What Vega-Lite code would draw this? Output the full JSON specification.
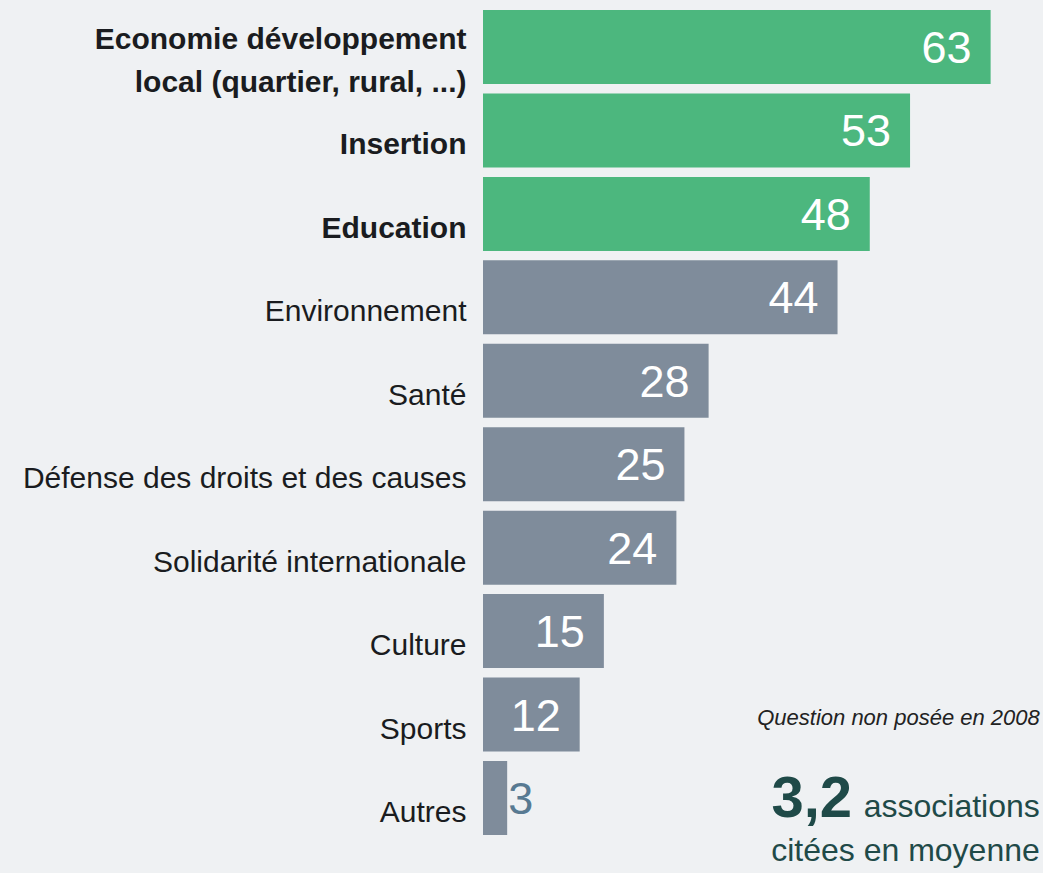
{
  "$schema": "https://vega.github.io/schema/vega-lite/v6.json",
  "autosize": "none",
  "width": 560,
  "height": 845,
  "padding": {"left": 483, "right": 0, "top": 0, "bottom": 28},
  "background": "#eff1f3",
  "config": {"view": {"stroke": null}, "font": "Liberation Sans"},
  "datasets": {
    "main": [
      {"cat": "Economie développement|local (quartier, rural, ...)", "value": 63, "group": "top"},
      {"cat": "Insertion", "value": 53, "group": "top"},
      {"cat": "Education", "value": 48, "group": "top"},
      {"cat": "Environnement", "value": 44, "group": "other"},
      {"cat": "Santé", "value": 28, "group": "other"},
      {"cat": "Défense des droits et des causes", "value": 25, "group": "other"},
      {"cat": "Solidarité internationale", "value": 24, "group": "other"},
      {"cat": "Culture", "value": 15, "group": "other"},
      {"cat": "Sports", "value": 12, "group": "other"},
      {"cat": "Autres", "value": 3, "group": "other"}
    ],
    "notes": [
      {"text": "Question non posée en 2008", "pos": 69.1, "cat": "Sports", "kind": "note"},
      {"text": "3,2", "pos": 45.8, "cat": "Autres", "kind": "big"},
      {"text": "associations", "pos": 69.1, "cat": "Autres", "kind": "line1"},
      {"text": "citées en moyenne", "pos": 69.1, "cat": "Autres", "kind": "line2"}
    ]
  },
  "encoding": {
    "y": {
      "field": "cat",
      "type": "nominal",
      "scale": {
        "domain": ["Economie développement|local (quartier, rural, ...)", "Insertion", "Education", "Environnement", "Santé", "Défense des droits et des causes", "Solidarité internationale", "Culture", "Sports", "Autres"],
        "paddingInner": 0.113,
        "paddingOuter": 0.12
      },
      "axis": {
        "title": null,
        "domain": false,
        "ticks": false,
        "grid": false,
        "labelPadding": 17,
        "labelLimit": 600,
        "labelFont": "Liberation Sans",
        "labelFontSize": 30,
        "labelColor": "#1a1c20",
        "labelLineHeight": 43,
        "labelExpr": "split(datum.value, '|')",
        "labelFontWeight": {"condition": {"test": "indexof(['Insertion','Education'], datum.value) >= 0 || indexof(datum.value, '|') >= 0", "value": "bold"}, "value": "normal"},
        "labelOffset": {"condition": {"test": "indexof(datum.value, '|') >= 0", "value": -7}, "value": 15}
      }
    }
  },
  "layer": [
    {
      "data": {"name": "main"},
      "mark": {"type": "bar"},
      "encoding": {
        "x": {"field": "value", "type": "quantitative", "scale": {"domain": [0, 69.5], "nice": false}, "axis": null},
        "color": {"field": "group", "type": "nominal", "scale": {"domain": ["top", "other"], "range": ["#4cb77e", "#7f8c9b"]}, "legend": null}
      }
    },
    {
      "data": {"name": "main"},
      "transform": [{"filter": "datum.value >= 5"}],
      "mark": {"type": "text", "align": "right", "baseline": "middle", "dx": -19, "dy": 2, "fontSize": 45, "color": "#ffffff"},
      "encoding": {
        "x": {"field": "value", "type": "quantitative"},
        "text": {"field": "value", "type": "quantitative"}
      }
    },
    {
      "data": {"name": "main"},
      "transform": [{"filter": "datum.value < 5"}],
      "mark": {"type": "text", "align": "left", "baseline": "middle", "dx": 1, "dy": 2, "fontSize": 45, "color": "#587a92"},
      "encoding": {
        "x": {"field": "value", "type": "quantitative"},
        "text": {"field": "value", "type": "quantitative"}
      }
    },
    {
      "data": {"name": "notes"},
      "transform": [{"filter": "datum.kind == 'note'"}],
      "mark": {"type": "text", "align": "right", "baseline": "alphabetic", "dy": 10, "fontSize": 22, "fontStyle": "italic", "color": "#222222"},
      "encoding": {
        "x": {"field": "pos", "type": "quantitative"},
        "text": {"field": "text"}
      }
    },
    {
      "data": {"name": "notes"},
      "transform": [{"filter": "datum.kind == 'big'"}],
      "mark": {"type": "text", "align": "right", "baseline": "alphabetic", "dy": 19, "fontSize": 58, "fontWeight": "bold", "color": "#1f4a48"},
      "encoding": {
        "x": {"field": "pos", "type": "quantitative"},
        "text": {"field": "text"}
      }
    },
    {
      "data": {"name": "notes"},
      "transform": [{"filter": "datum.kind == 'line1'"}],
      "mark": {"type": "text", "align": "right", "baseline": "alphabetic", "dy": 19, "fontSize": 32, "color": "#1f4a48"},
      "encoding": {
        "x": {"field": "pos", "type": "quantitative"},
        "text": {"field": "text"}
      }
    },
    {
      "data": {"name": "notes"},
      "transform": [{"filter": "datum.kind == 'line2'"}],
      "mark": {"type": "text", "align": "right", "baseline": "alphabetic", "dy": 63, "fontSize": 32, "color": "#1f4a48"},
      "encoding": {
        "x": {"field": "pos", "type": "quantitative"},
        "text": {"field": "text"}
      }
    }
  ]
}
